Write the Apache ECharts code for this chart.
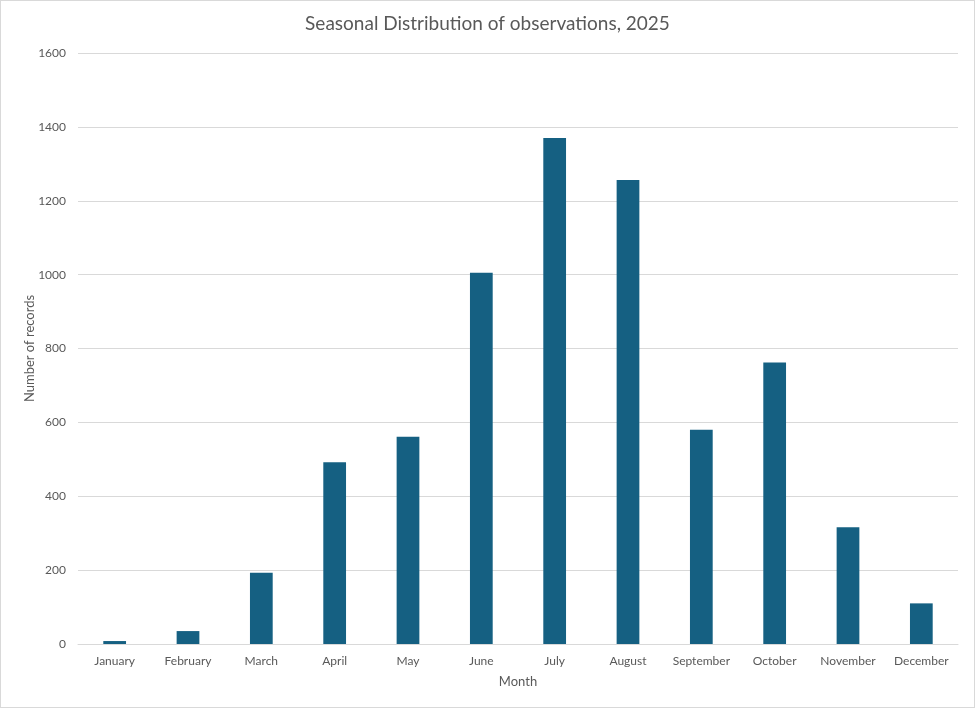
<!DOCTYPE html>
<html><head><meta charset="utf-8">
<script src="https://cdn.jsdelivr.net/npm/echarts@6/dist/echarts.min.js"></script>
<style>html,body{margin:0;padding:0;background:#fff}#c{width:975px;height:708px;box-sizing:border-box;border:1px solid #d9d9d9}</style>
</head><body><div id="c"></div>
<script>
const categories = ["January","February","March","April","May","June","July","August","September","October","November","December"];
const values = [8, 35, 193, 492, 561, 1005, 1370, 1256, 580, 762, 316, 110];
const yTicks = [0, 200, 400, 600, 800, 1000, 1200, 1400, 1600];

const chart = echarts.init(document.getElementById('c'));
const font = 'Lato, Open Sans, sans-serif';
chart.setOption({
  animation: false,
  title: { text: 'Seasonal Distribution of observations, 2025', left: 'center', top: 8,
    textStyle: { fontFamily: font, fontSize: 19, fontWeight: 'normal', color: '#595959' } },
  grid: { left: 77, right: 16, top: 52, bottom: 63 },
  xAxis: { type: 'category', data: categories, name: 'Month', nameLocation: 'middle', nameGap: 31,
    nameTextStyle: { fontFamily: font, fontSize: 13, color: '#595959' },
    axisLine: { lineStyle: { color: '#d9d9d9' } }, axisTick: { show: false },
    axisLabel: { fontFamily: font, fontSize: 12, color: '#595959', margin: 11, interval: 0 } },
  yAxis: { type: 'value', min: yTicks[0], max: yTicks[yTicks.length-1], interval: 200,
    name: 'Number of records', nameLocation: 'middle', nameGap: 42, nameMoveOverlap: false,
    nameTextStyle: { fontFamily: font, fontSize: 13, color: '#595959' },
    axisLabel: { fontFamily: font, fontSize: 12, color: '#595959', margin: 12, formatter: v => String(v) },
    splitLine: { lineStyle: { color: '#d9d9d9' } } },
  series: [{ type: 'bar', data: values, barWidth: '31%',
    itemStyle: { color: '#156082' } }]
});
</script></body></html>
